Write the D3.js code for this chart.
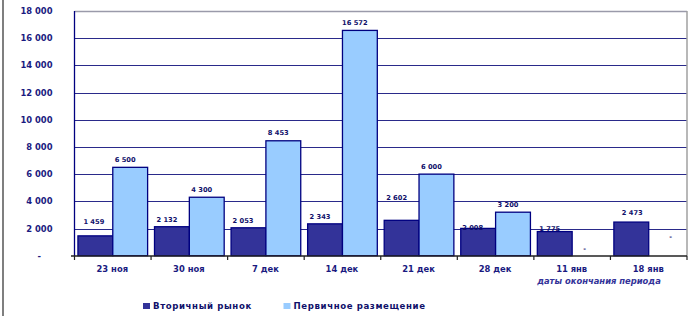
<!DOCTYPE html>
<html>
<head>
<meta charset="utf-8">
<script src="https://cdn.jsdelivr.net/npm/d3@7"></script>
<style>
body{margin:0;background:#fff;}
svg{display:block;font-family:"DejaVu Sans",sans-serif;font-weight:bold;}
</style>
</head>
<body>
<svg class="chart" width="694" height="316"></svg>
<script>
// data
const periods = ["23 ноя","30 ноя","7 дек","14 дек","21 дек","28 дек","11 янв","18 янв"];
const secondary = [1459, 2132, 2053, 2343, 2602, 2008, 1775, 2473]; // Вторичный рынок
const primary = [6500, 4300, 8453, 16572, 6000, 3200, 0, 0];      // Первичное размещение
const yTicks = [0, 2000, 4000, 6000, 8000, 10000, 12000, 14000, 16000, 18000];
const seriesNames = ["Вторичный рынок", "Первичное размещение"];

// label nudges (px) - labels in the original were dragged around by hand
const secNudge = [[-1.5,14],[-5,7.4],[-5.5,7],[-5,7.6],[-5,23],[-5.5,1],[-5,3],[1,9]];
const priNudge = [[-5,8],[-5,8],[-5,8],[-5,8],[-5,8],[-5,8],[-5,7],[4.5,18.7]];

const navy = "#000080";
const colors = ["#333399", "#99ccff"];

const svg = d3.select("svg.chart");

const fmt = d3.formatLocale({decimal: ",", thousands: " ", grouping: [3], currency: ["", ""]}).format(",d");
const lbl = v => v === 0 ? "-" : fmt(v);

// scales
const y = d3.scaleLinear().domain([0, 18000]).range([255.7, 11]);
const x = d3.scaleBand().domain(periods).range([74.5, 687]).paddingInner(0.09).paddingOuter(0.045);
const xs = d3.scaleBand().domain([0, 1]).range([0, x.bandwidth()]);

// left frame line
svg.append("line").attr("x1", 3).attr("x2", 3).attr("y1", 0).attr("y2", 316)
  .attr("stroke", "#555").attr("stroke-width", 1.5);

// grid
svg.append("g").selectAll("line")
  .data(yTicks.slice(1))
  .enter().append("line")
  .attr("x1", 74.5).attr("x2", 687)
  .attr("y1", d => Math.round(y(d)) + 0.5).attr("y2", d => Math.round(y(d)) + 0.5)
  .attr("stroke", d => d === 18000 ? "#9a9aaa" : "#2a2a8a")
  .attr("stroke-width", d => d === 18000 ? 1.5 : 1);

// right border of plot
svg.append("line").attr("x1", 687).attr("x2", 687).attr("y1", 11).attr("y2", 256)
  .attr("stroke", "#a0a0a0").attr("stroke-width", 1.5);

// y axis labels
svg.append("g").selectAll("text")
  .data(yTicks)
  .enter().append("text")
  .attr("x", d => d === 0 ? 41 : 52.5)
  .attr("y", d => y(d))
  .attr("dy", "0.36em")
  .attr("text-anchor", "end")
  .attr("font-size", 8.4)
  .attr("fill", "#1a1a80")
  .text(lbl);

// bars
const groups = svg.append("g").selectAll("g")
  .data(periods)
  .enter().append("g")
  .attr("transform", d => `translate(${x(d)},0)`);

groups.each(function(p, i) {
  const g = d3.select(this);
  [secondary[i], primary[i]].forEach((v, k) => {
    if (v === 0) return;
    g.append("rect")
      .attr("x", xs(k))
      .attr("y", y(v))
      .attr("width", xs.bandwidth())
      .attr("height", y(0) - y(v))
      .attr("fill", colors[k])
      .attr("stroke", navy)
      .attr("stroke-width", 1.3);
  });
});

// axes lines
svg.append("line").attr("x1", 74.5).attr("x2", 74.5).attr("y1", 11).attr("y2", 256)
  .attr("stroke", navy).attr("stroke-width", 1.3);
svg.append("line").attr("x1", 71).attr("x2", 687).attr("y1", 256).attr("y2", 256)
  .attr("stroke", "#222").attr("stroke-width", 1.3);
svg.append("g").selectAll("line")
  .data(d3.range(periods.length + 1))
  .enter().append("line")
  .attr("x1", i => 74.5 + i * x.step()).attr("x2", i => 74.5 + i * x.step())
  .attr("y1", 256).attr("y2", 260)
  .attr("stroke", "#222").attr("stroke-width", 1.2);

// value labels
groups.each(function(p, i) {
  const g = d3.select(this);
  [[secondary[i], secNudge[i]], [primary[i], priNudge[i]]].forEach(([v, n], k) => {
    g.append("text")
      .attr("x", xs(k) + xs.bandwidth() / 2 + n[0])
      .attr("y", y(v) - n[1])
      .attr("dy", "0.36em")
      .attr("text-anchor", "middle")
      .attr("font-size", 6.7)
      .attr("fill", "#10106a")
      .text(lbl(v));
  });
});

// category labels
svg.append("g").selectAll("text")
  .data(periods)
  .enter().append("text")
  .attr("x", d => x(d) + x.bandwidth() / 2 - 0.5)
  .attr("y", 269)
  .attr("dy", "0.36em")
  .attr("text-anchor", "middle")
  .attr("font-size", 8.4)
  .attr("fill", "#1a1a80")
  .text(d => d);

svg.append("text")
  .attr("x", 599).attr("y", 281).attr("dy", "0.36em")
  .attr("text-anchor", "middle")
  .attr("font-size", 8.4)
  .attr("font-style", "italic")
  .attr("fill", "#333399")
  .text("даты окончания периода");

// legend
const legX = [143, 283.5];
const leg = svg.append("g").selectAll("g")
  .data(seriesNames)
  .enter().append("g")
  .attr("transform", (d, i) => `translate(${legX[i]},303)`);
leg.append("rect").attr("width", 7).attr("height", 6).attr("fill", (d, i) => colors[i]);
leg.append("text")
  .attr("x", 10).attr("y", 3.3).attr("dy", "0.36em")
  .attr("font-size", 8.6)
  .attr("letter-spacing", 0.6)
  .attr("fill", "#10106a")
  .text(d => d);
</script>
</body>
</html>
